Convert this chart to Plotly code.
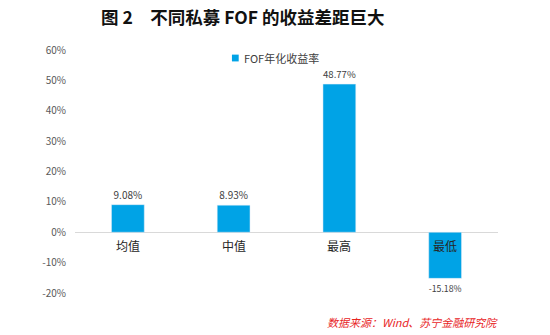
import plotly.graph_objects as go

# FOF annualised return by statistic
categories = ["均值", "中值", "最高", "最低"]
returns = [0.0908, 0.0893, 0.4877, -0.1518]
series_name = "FOF年化收益率"
y_ticks = [-0.2, -0.1, 0, 0.1, 0.2, 0.3, 0.4, 0.5, 0.6]
y_tick_text = ["-20%", "-10%", "0%", "10%", "20%", "30%", "40%", "50%", "60%"]

BAR = "#00A3E6"
FONT = "Noto Sans CJK SC"

fig = go.Figure()
fig.add_trace(go.Bar(
    x=categories,
    y=returns,
    name=series_name,
    marker=dict(color=BAR),
    width=0.31,
    text=[f"{v*100:.2f}%" for v in returns],
    textposition="outside",
    textfont=dict(family=FONT, size=10, color="#404040"),
    cliponaxis=False,
    showlegend=False,
))

# category labels sit right under the zero line
for c in categories:
    fig.add_annotation(x=c, y=0, text=c, showarrow=False, yanchor="top", yshift=-3,
                       font=dict(family=FONT, size=12, color="#262626"))

# compact legend key: small square plus series name
fig.add_shape(type="rect", xref="paper", yref="paper",
              x0=0.371, x1=0.387, y0=0.953, y1=0.981,
              fillcolor=BAR, line=dict(width=0))
fig.add_annotation(x=0.395, y=0.967, xref="paper", yref="paper", xanchor="left", yanchor="middle",
                   text=series_name, showarrow=False,
                   font=dict(family=FONT, size=11, color="#404040"))

fig.add_annotation(x=0.397, y=1.136, xref="paper", yref="paper", yanchor="middle",
                   text="<b>图 2　不同私募 FOF 的收益差距巨大</b>", showarrow=False,
                   font=dict(family=FONT, size=17.5, color="#111111"))
fig.add_annotation(x=1.005, y=-0.119, xref="paper", yref="paper", xanchor="right", yanchor="middle",
                   text="<i>数据来源：Wind、苏宁金融研究院</i>", showarrow=False,
                   font=dict(family=FONT, size=11, color="#E8251F"))

fig.update_layout(
    width=550, height=335,
    margin=dict(l=75, r=52, t=50, b=42),
    paper_bgcolor="white", plot_bgcolor="white",
    showlegend=False,
    xaxis=dict(showticklabels=False, showgrid=False, zeroline=False, showline=False, ticks=""),
    yaxis=dict(range=[-0.2, 0.6], tickvals=y_ticks, ticktext=y_tick_text, showgrid=False,
               zeroline=True, zerolinecolor="#D9D9D9", zerolinewidth=1, showline=False,
               tickfont=dict(family=FONT, size=10, color="#595959"), ticks="", ticklabelstandoff=8),
)

fig.write_html("out.html")
